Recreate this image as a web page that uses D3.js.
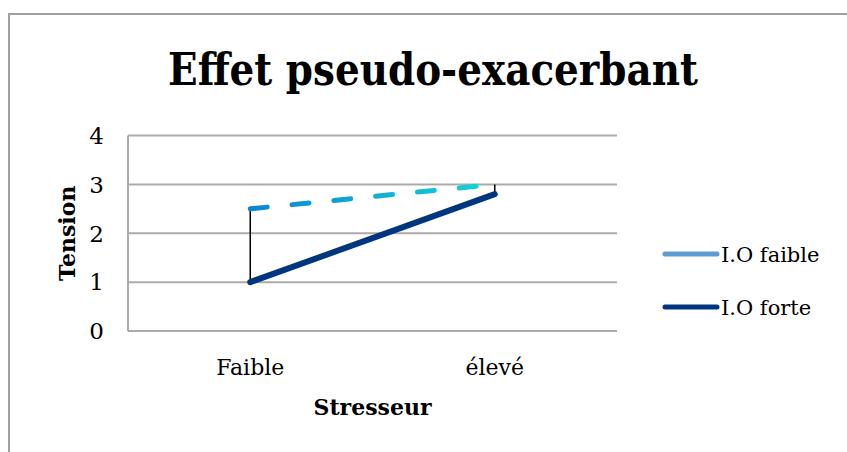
<!DOCTYPE html>
<html>
<head>
<meta charset="utf-8">
<script src="https://cdn.jsdelivr.net/npm/d3@7"></script>
<style>
  body { margin: 0; background: #fff; }
  text { font-family: "DejaVu Serif", "Liberation Serif", serif; fill: #000; }
</style>
</head>
<body>
<div id="chart"></div>
<script>
// Chart data
const categories = ["Faible", "élevé"];
const ioFaible = [2.5, 3];
const ioForte = [1, 2.8];
const yTicks = [0, 1, 2, 3, 4];
const seriesNames = ["I.O faible", "I.O forte"];

const width = 847;
const height = 452;
const plot = { left: 128, right: 617, top: 135.5, bottom: 331 };

const svg = d3.select("#chart")
    .append("svg")
    .attr("width", width)
    .attr("height", height);

// Outer chart border (runs off the right and bottom edges)
svg.append("rect")
    .attr("x", 9)
    .attr("y", 14)
    .attr("width", 900)
    .attr("height", 500)
    .attr("fill", "none")
    .attr("stroke", "#a0a0a0")
    .attr("stroke-width", 2);

const x = d3.scalePoint()
    .domain(categories)
    .range([plot.left, plot.right])
    .padding(0.5);

const y = d3.scaleLinear()
    .domain([0, 4])
    .range([plot.bottom, plot.top]);

// Gradient for the dashed series
const defs = svg.append("defs");
const grad = defs.append("linearGradient")
    .attr("id", "faibleGradient")
    .attr("gradientUnits", "userSpaceOnUse")
    .attr("x1", x(categories[0]))
    .attr("x2", x(categories[1]))
    .attr("y1", 0)
    .attr("y2", 0);
grad.append("stop").attr("offset", "0%").attr("stop-color", "#0a86d4");
grad.append("stop").attr("offset", "100%").attr("stop-color", "#18d4d6");

// Gridlines
svg.selectAll(".grid")
    .data(yTicks)
    .enter()
    .append("line")
    .attr("class", "grid")
    .attr("x1", plot.left)
    .attr("x2", plot.right)
    .attr("y1", d => y(d))
    .attr("y2", d => y(d))
    .attr("stroke", "#ababab")
    .attr("stroke-width", 2);

// Left axis line
svg.append("line")
    .attr("x1", plot.left)
    .attr("x2", plot.left)
    .attr("y1", y(4))
    .attr("y2", y(0))
    .attr("stroke", "#ababab")
    .attr("stroke-width", 2);

// Y tick labels
svg.selectAll(".ytick")
    .data(yTicks)
    .enter()
    .append("text")
    .attr("x", 104)
    .attr("y", d => y(d))
    .attr("dy", "0.36em")
    .attr("text-anchor", "end")
    .attr("font-size", 23)
    .text(d => d);

// Category labels
svg.selectAll(".xtick")
    .data(categories)
    .enter()
    .append("text")
    .attr("x", d => x(d))
    .attr("y", 375)
    .attr("text-anchor", "middle")
    .attr("font-size", 22)
    .text(d => d);

// Axis titles
svg.append("text")
    .attr("x", (plot.left + plot.right) / 2)
    .attr("y", 415)
    .attr("text-anchor", "middle")
    .attr("font-size", 22)
    .attr("font-weight", "bold")
    .text("Stresseur");

svg.append("text")
    .attr("transform", `translate(75, ${(plot.top + plot.bottom) / 2}) rotate(-90)`)
    .attr("text-anchor", "middle")
    .attr("font-size", 22)
    .attr("font-weight", "bold")
    .text("Tension");

// Title
svg.append("text")
    .attr("x", 433)
    .attr("y", 85)
    .attr("text-anchor", "middle")
    .attr("font-size", 44)
    .attr("font-weight", "bold")
    .attr("textLength", 530)
    .attr("lengthAdjust", "spacingAndGlyphs")
    .text("Effet pseudo-exacerbant");

// High-low lines between the two series
svg.selectAll(".hilo")
    .data(categories)
    .enter()
    .append("line")
    .attr("x1", d => x(d))
    .attr("x2", d => x(d))
    .attr("y1", (d, i) => y(Math.max(ioFaible[i], ioForte[i])))
    .attr("y2", (d, i) => y(Math.min(ioFaible[i], ioForte[i])))
    .attr("stroke", "#000")
    .attr("stroke-width", 1.5);

const line = d3.line()
    .x((d, i) => x(categories[i]))
    .y(d => y(d));

// I.O forte (solid)
svg.append("path")
    .datum(ioForte)
    .attr("d", line)
    .attr("fill", "none")
    .attr("stroke", "#003580")
    .attr("stroke-width", 6)
    .attr("stroke-linecap", "round");

// I.O faible (dashed, gradient)
svg.append("path")
    .datum(ioFaible)
    .attr("d", line)
    .attr("fill", "none")
    .attr("stroke", "url(#faibleGradient)")
    .attr("stroke-width", 5)
    .attr("stroke-dasharray", "17,25")
    .attr("stroke-linecap", "round");

// Legend
const legendColors = ["#5e9bd3", "#003580"];
const legendY = [254, 307];
const legend = svg.selectAll(".legend")
    .data(seriesNames)
    .enter()
    .append("g")
    .attr("transform", (d, i) => `translate(0, ${legendY[i]})`);

legend.append("line")
    .attr("x1", 665)
    .attr("x2", 717)
    .attr("y1", 0)
    .attr("y2", 0)
    .attr("stroke", (d, i) => legendColors[i])
    .attr("stroke-width", 5)
    .attr("stroke-linecap", "round");

legend.append("text")
    .attr("x", 721)
    .attr("y", 0)
    .attr("dy", "0.36em")
    .attr("font-size", 21)
    .text(d => d);
</script>
</body>
</html>
